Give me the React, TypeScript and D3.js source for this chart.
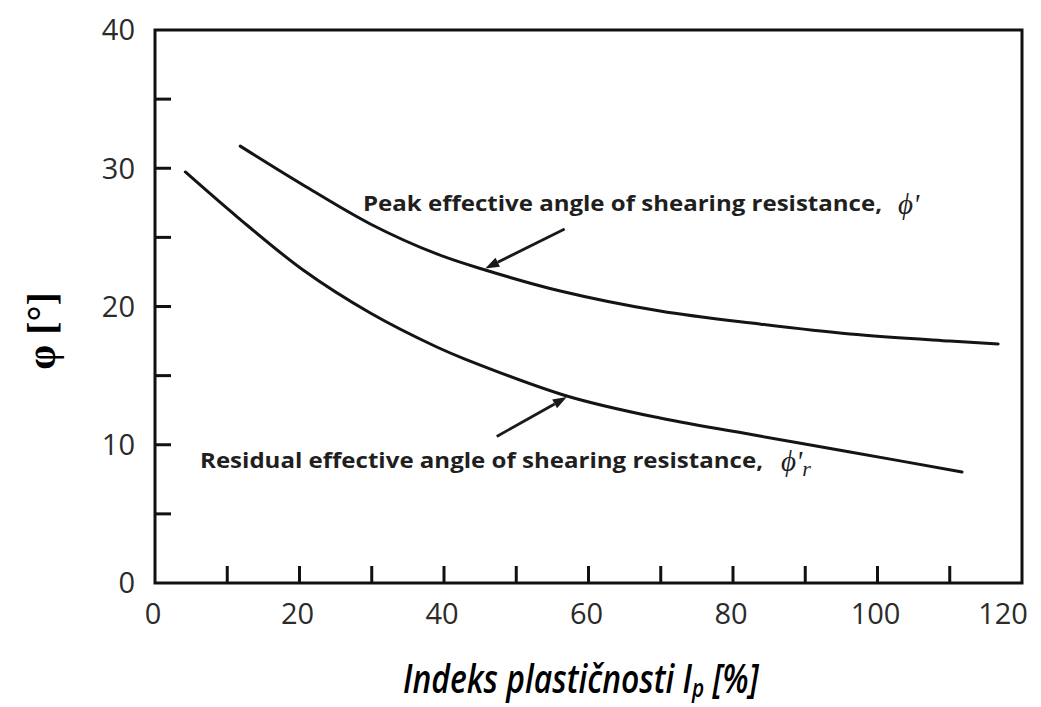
import React, { useLayoutEffect, useRef, useState } from "react";
import * as d3 from "d3";

const peakX = [11.8, 20.5, 29.8, 39.0, 45.7, 56.1, 69.9, 83.7, 96.2, 110.0, 116.7];
const peakY = [31.6, 28.79, 25.97, 23.8, 22.64, 21.12, 19.67, 18.73, 18.01, 17.5, 17.29];
const resX = [4.2, 11.4, 20.5, 29.8, 39.0, 42.9, 57.0, 69.9, 83.7, 96.2, 111.7];
const resY = [29.73, 26.47, 22.64, 19.53, 17.07, 16.2, 13.53, 11.93, 10.63, 9.48, 8.03];
const xTickLabels = [0, 20, 40, 60, 80, 100, 120];
const xMinorTicks = [10, 20, 30, 40, 50, 60, 70, 80, 90, 100, 110];
const yTickLabels = [0, 10, 20, 30, 40];
const yMinorTicks = [5, 10, 15, 20, 25, 30, 35];
// arrows: [fromX, fromY, toX, toY] in data units
const peakArrow = [56.7, 25.6, 45.7, 22.75];
const resArrow = [47.3, 10.6, 57.0, 13.45];

const W = 1041, H = 707;
const M = { left: 155, right: 1022, top: 30, bottom: 583 };

export default function App() {
  const titleRef = useRef<SVGTextElement>(null);
  const [sx, setSx] = useState(1);
  useLayoutEffect(() => {
    if (titleRef.current) {
      const w = titleRef.current.getBBox().width;
      if (w > 0) setSx(357 / w);
    }
  }, []);

  const x = d3.scaleLinear().domain([0, 120]).range([M.left, M.right]);
  const y = d3.scaleLinear().domain([0, 40]).range([M.bottom, M.top]);
  const line = d3.line<[number, number]>().x(d => x(d[0])).y(d => y(d[1])).curve(d3.curveCatmullRom.alpha(0.5));
  const peak = peakX.map((v, i) => [v, peakY[i]] as [number, number]);
  const res = resX.map((v, i) => [v, resY[i]] as [number, number]);
  const tickFont = "'Open Sans', 'DejaVu Sans', sans-serif";
  const annFont = "'Open Sans', 'Liberation Sans', sans-serif";
  const phiFont = "'Liberation Serif', 'DejaVu Serif', serif";

  const arrow = (a: number[], key: string) => {
    const x1 = x(a[0]), y1 = y(a[1]), x2 = x(a[2]), y2 = y(a[3]);
    const ang = Math.atan2(y2 - y1, x2 - x1);
    const L = 14, Wd = 5;
    const bx = x2 - L * Math.cos(ang), by = y2 - L * Math.sin(ang);
    const px = -Math.sin(ang) * Wd, py = Math.cos(ang) * Wd;
    return (
      <g key={key}>
        <line x1={x1} y1={y1} x2={bx} y2={by} stroke="#1a1a1a" strokeWidth={2.8} />
        <path d={`M${x2},${y2}L${bx + px},${by + py}L${bx - px},${by - py}Z`} fill="#1a1a1a" />
      </g>
    );
  };

  return (
    <svg width={W} height={H} style={{ position: "absolute", left: 0, top: 0, background: "#fff" }}>
      <rect x={0} y={0} width={W} height={H} fill="#fff" />
      {/* frame */}
      <rect x={M.left} y={M.top} width={M.right - M.left} height={M.bottom - M.top} fill="none" stroke="#111" strokeWidth={3} />
      {yMinorTicks.map(t => (
        <line key={"yt" + t} x1={M.left} x2={M.left + 16} y1={y(t)} y2={y(t)} stroke="#111" strokeWidth={3} />
      ))}
      {xMinorTicks.map(t => (
        <line key={"xt" + t} x1={x(t)} x2={x(t)} y1={M.bottom} y2={M.bottom - 17} stroke="#111" strokeWidth={3} />
      ))}
      {yTickLabels.map(t => (
        <text key={"yl" + t} x={M.left - 20} y={y(t)} dy="0.36em" textAnchor="end" fontFamily={tickFont} fontSize={29} fill="#2b2b2b">{t}</text>
      ))}
      {xTickLabels.map((t, i) => (
        <text key={"xl" + t} x={x(t) - (i === xTickLabels.length - 1 ? 17 : 0) - 2} y={M.bottom + 41} textAnchor="middle" fontFamily={tickFont} fontSize={29} fill="#2b2b2b">{t}</text>
      ))}
      {/* curves */}
      <path d={line(peak) || ""} fill="none" stroke="#141414" strokeWidth={3} strokeLinecap="round" />
      <path d={line(res) || ""} fill="none" stroke="#141414" strokeWidth={3} strokeLinecap="round" />
      {arrow(peakArrow, "pa")}
      {arrow(resArrow, "ra")}
      {/* annotations */}
      <text x={363} y={211} fontFamily={annFont} fontWeight={700} fontSize={21} fill="#1f1f1f" textLength={519} lengthAdjust="spacingAndGlyphs">Peak effective angle of shearing resistance,</text>
      <text x={898} y={214} fontFamily={phiFont} fontStyle="italic" fontSize={29} fill="#1f1f1f">ϕ'</text>
      <text x={200} y={468} fontFamily={annFont} fontWeight={700} fontSize={21} fill="#1f1f1f" textLength={563} lengthAdjust="spacingAndGlyphs">Residual effective angle of shearing resistance,</text>
      <text x={781} y={471} fontFamily={phiFont} fontStyle="italic" fontSize={29} fill="#1f1f1f">ϕ'<tspan fontSize={22} dy={5}>r</tspan></text>
      {/* axis titles */}
      <text transform={`translate(55,${331}) rotate(-90)`} textAnchor="middle" fontFamily={phiFont} fontWeight={700} fontSize={40} fill="#000">φ [°]</text>
      <g transform={`translate(403,693) scale(${sx},1)`}>
        <text ref={titleRef} x={0} y={0} fontFamily="'Open Sans', sans-serif" fontStyle="italic" fontWeight={600} fontSize={40} fill="#000">Indeks plastičnosti I<tspan fontSize={26} dy={4}>p</tspan><tspan dy={-4}> [%]</tspan></text>
      </g>
    </svg>
  );
}
